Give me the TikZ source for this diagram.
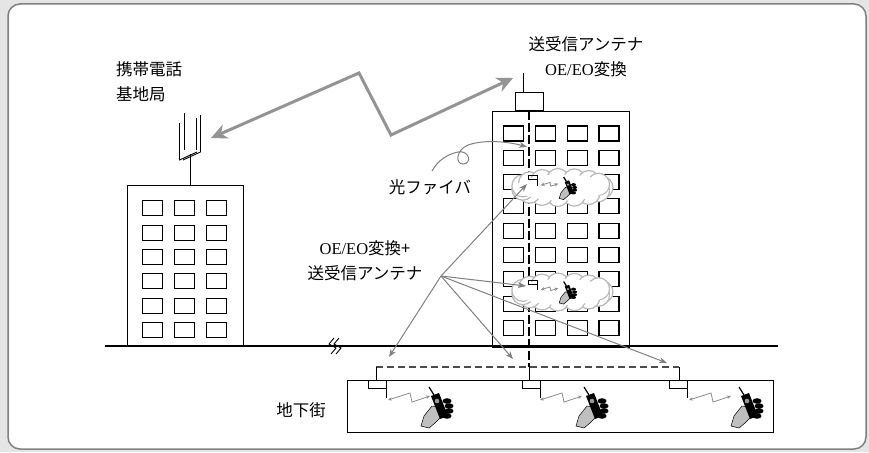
\documentclass[tikz,border=0pt]{standalone}
\usepackage{fontspec}
\setmainfont{Liberation Serif}
\newfontfamily\jp{Noto Sans CJK JP}
\usetikzlibrary{arrows.meta}

\tikzset{
  wall/.style={draw,line width=1pt},
  win/.style={draw,line width=1.1pt},
  fibre/.style={line width=1.1pt,dash pattern=on 9pt off 3pt},
  feed/.style={draw=black!70,line width=1.6pt,dash pattern=on 7pt off 4pt},
  radio/.style={draw=black!42,line width=3pt,line join=miter,
    {Stealth[length=16pt,width=15pt,inset=5pt]}-{Stealth[length=16pt,width=15pt,inset=5pt]}},
  tap/.style={draw=black!50,line width=1pt,-{Stealth[length=8pt,width=6pt]}},
  zz/.style={draw=black!45,line width=0.8pt,
    {Stealth[length=4pt,width=3.5pt]}-{Stealth[length=4pt,width=3.5pt]}},
  lbl/.style={font=\jp\fontsize{16.5}{25}\selectfont,inner sep=0pt},
  cell/.pic={
    \foreach \a in {0,24,...,336}
      \filldraw[draw=black!28,fill=white,line width=1.2pt]
        ({40*cos(\a)},{8*sin(\a)}) circle (11);
    \fill[white] (0,0) ellipse (46 and 13);
  },
  handset/.pic={
    \filldraw[fill=black!25,draw=black,line width=0.5pt]
      (-16,19) -- (-13,9) -- (-5,-1) -- (2,0) -- (5,9) -- (-2,16) -- (-8,21) -- cycle;
    \fill[black] (-6,-11) -- (2,-14) -- (11,9) -- (3,12) -- cycle;
    \draw[line width=1.2pt] (-3,-12) -- (-8,-20);
    \foreach \q/\w in {-6/10,-1/12,4/12,9/10} \fill[black] (\w,\q) ellipse (4.5 and 2.8);
    \fill[black!40] (0,-6) circle (2.3);
  },
  zlink/.pic={\draw[zz] (-21,2) -- (1,-5) -- (3,4) -- (21,-2);}
}

\begin{document}
\begin{tikzpicture}[x=1pt,y=-1pt]
\fill[black!10] (0,0) rectangle (869,452);
\draw[black!50,line width=1.5pt,fill=white,rounded corners=12pt] (8,4) rectangle (866,449);

% ground line and break mark
\draw[line width=1.2pt] (105,346) -- (778,346);
\draw[line width=0.9pt] (334,338) -- (329,344) -- (336,348) -- (331,354)
  (339,338) -- (334,344) -- (341,348) -- (336,354);

% base station building
\draw[wall] (127.7,185.7) rectangle (243.3,346);
\foreach \r in {0,...,5}
  \foreach \c in {0,...,2}
    \draw[win] ({142.7+32*\c},{200.7+24.4*\r}) rectangle +(20,15);
\draw[wall] (190,154) -- (190,185.7);
\draw[line width=0.9pt] (179.5,123) -- (179.5,160) -- (197,152);
\draw[line width=0.9pt] (200.5,115) -- (200.5,152) -- (183,160);
\draw[line width=0.9pt] (184.5,113) -- (184.5,150);
\draw[line width=0.9pt] (196,118) -- (196,150);

% office tower with roof unit
\draw[wall] (492.3,111) rectangle (629.3,347);
\draw[wall] (515.5,92.7) rectangle (543,110.7);
\draw[wall] (523,92.7) -- (523,73);
\foreach \r in {0,...,8}
  \foreach \c in {0,...,3}
    \draw[win] ({503.3+31.9*\c},{126+24.3*\r}) rectangle +(20,15);
\draw[fibre] (529,110.7) -- (529,367);

% underground mall
\draw[feed] (376,367) -- (679,367);
\draw[wall] (347,380) rectangle (773,432);
\foreach \bx/\lx in {368/376,522/529,669/679} {
  \draw[wall] (\lx,367) -- (\lx,380);
  \draw[wall] (\bx,380) rectangle +(18,8);
  \draw[wall] ({\bx+18},388) -- ({\bx+18},398);
}
\foreach \hx/\zx in {437/409,592/561,747/710} {
  \pic at (\zx,398) {zlink};
  \pic at (\hx,407) {handset};
}

% in-building cells
\foreach \dy in {0,104.5} {
  \pic at (562,{187.5+\dy}) {cell};
  \draw[line width=0.9pt] (528.5,{175.7+\dy}) rectangle +(9,3.8);
  \draw[line width=0.9pt] (537.5,{179.5+\dy}) -- +(0,6);
  \pic[scale=0.42] at (549.5,{184.5+\dy}) {zlink};
  \pic[scale=0.55] at (568,{188+\dy}) {handset};
}

% labels
\node[lbl,align=left,anchor=north west] (lblbase) at (116,61) {携帯電話\\基地局};
\node[lbl,align=center] (lbltop) at (586,57) {送受信アンテナ\\{\rmfamily OE/EO}変換};
\node[lbl] (lblfib) at (430,187) {光ファイバ};
\node[lbl,align=center] (lblhub) at (365,261) {{\rmfamily OE/EO}変換+\\送受信アンテナ};
\node[lbl] (lblsub) at (301,410) {地下街};

% radio link between base station and roof antenna
\coordinate (bsarr) at (211,138);
\coordinate (roofarr) at (513,78);
\draw[radio] (bsarr) -- (359,73) -- (391,135) -- (roofarr);

% fibre pointer
\coordinate (curl) at (432,171);
\coordinate (fibtap) at (527,147);
\draw[tap] (curl) .. controls (438,160) and (448,154) .. (458,152)
  .. controls (470,150) and (472,164) .. (463,164)
  .. controls (455,164) and (456,150) .. (468,145)
  .. controls (485,139) and (510,142) .. (fibtap);

% remote antenna pointers
\coordinate (hub) at (441,276);
\coordinate (tapA) at (527,184);
\coordinate (tapB) at (526,286);
\coordinate (dnA) at (389,357);
\coordinate (dnB) at (513,359);
\coordinate (dnC) at (667,363);
\foreach \t in {tapA,tapB,dnA,dnB,dnC}
  \draw[tap] (hub) -- (\t);
\end{tikzpicture}
\end{document}
